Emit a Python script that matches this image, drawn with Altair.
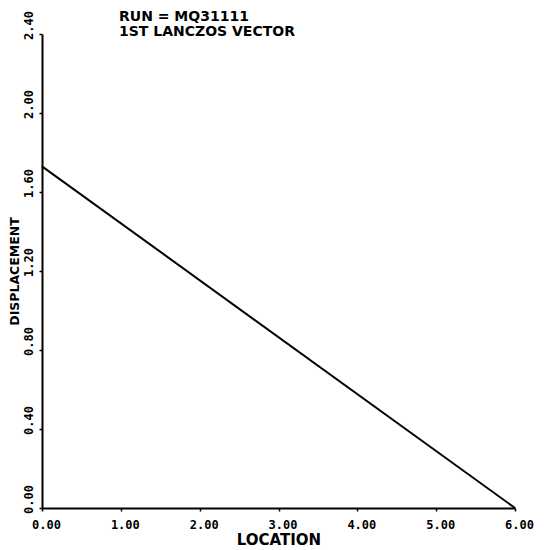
import altair as alt
import pandas as pd

location = [0.0, 6.0]
displacement = [1.73, 0.0]
x_ticks = [0, 1, 2, 3, 4, 5, 6]
y_ticks = [0.0, 0.4, 0.8, 1.2, 1.6, 2.0, 2.4]
title_lines = ["RUN = MQ31111", "1ST LANCZOS VECTOR"]

df = pd.DataFrame({"location": location, "displacement": displacement})

mono = "DejaVu Sans Mono"
sans = "DejaVu Sans"

chart = alt.Chart(
    df,
    title=alt.TitleParams(
        text=title_lines, anchor="start", frame="group", dx=77, dy=28, font=sans, fontSize=14,
        fontWeight="bold", color="black", lineHeight=15, baseline="top", offset=0,
    ),
).mark_line(color="black", strokeWidth=2).encode(
    x=alt.X(
        "location:Q",
        scale=alt.Scale(domain=[0, 6], nice=False, zero=False),
        axis=alt.Axis(
            values=x_ticks, format=".2f", title="LOCATION",
            labelFont=mono, labelFontSize=12, labelFontWeight="bold", labelColor="black",
            labelPadding=8, labelOffset=4, labelFlush=False,
            titleFont=sans, titleFontSize=15, titleFontWeight="bold", titleColor="black",
            titlePadding=2, domainColor="black", domainWidth=2,
            tickColor="black", tickSize=3, tickWidth=1.5, grid=False,
        ),
    ),
    y=alt.Y(
        "displacement:Q",
        scale=alt.Scale(domain=[0, 2.4], nice=False, zero=False),
        axis=alt.Axis(
            values=y_ticks, format=".2f", title="DISPLACEMENT",
            labelFont=mono, labelFontSize=12, labelFontWeight="bold", labelColor="black",
            labelAngle=270, labelAlign="center", labelBaseline="bottom",
            labelPadding=4, labelOffset=-9, labelFlush=False,
            titleFont=sans, titleFontSize=12.5, titleFontWeight="bold", titleColor="black",
            titleX=-21, titleY=237, titleAngle=270, titleAlign="center", titleBaseline="bottom",
            domainColor="black", domainWidth=2,
            tickColor="black", tickSize=3, tickWidth=1.5, grid=False,
        ),
    ),
).properties(
    width=473, height=474,
    padding={"left": 34, "top": 26, "right": 21, "bottom": 40},
    autosize="none",
).configure_view(stroke=None)

chart.save("out.html", embed_options={"renderer": "svg", "actions": False})
